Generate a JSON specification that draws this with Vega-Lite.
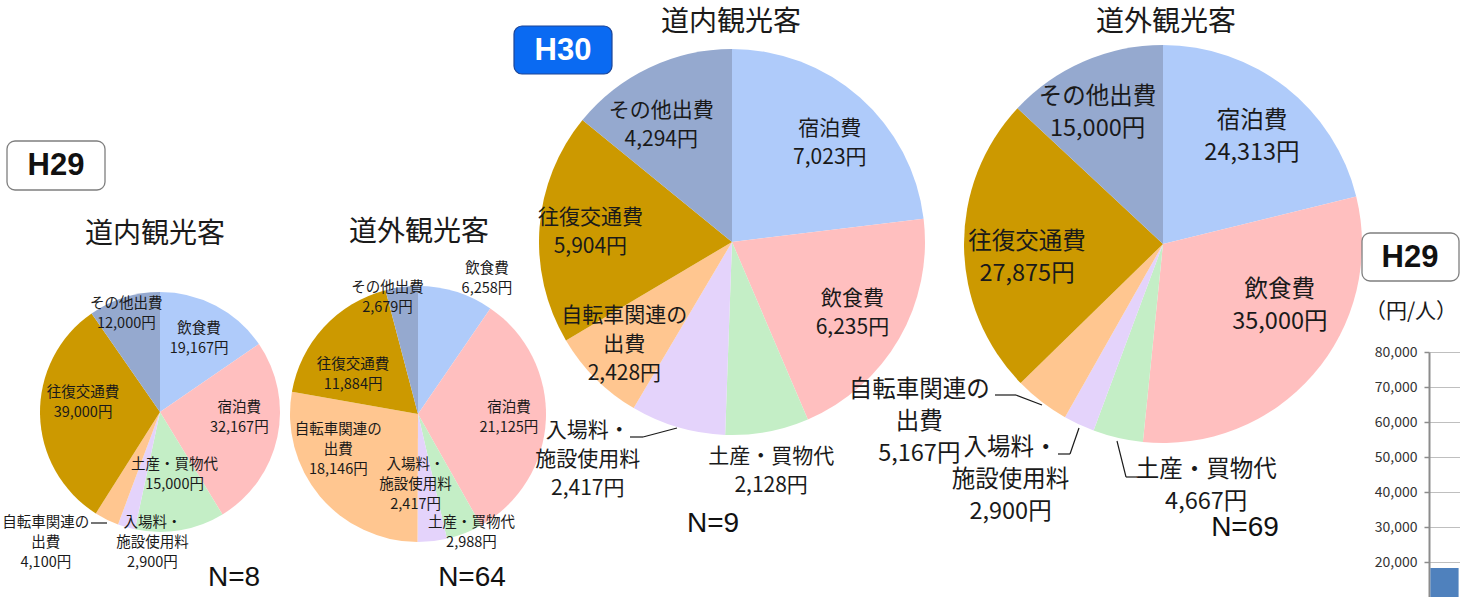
{
  "$schema": "https://vega.github.io/schema/vega-lite/v6.json",
  "padding": 0,
  "background": "white",
  "autosize": {"type": "pad"},
  "bounds": "flush",
  "spacing": 0,
  "config": {
    "view": {"stroke": null},
    "text": {"font": "Noto Sans CJK JP", "color": "#1a1a1a", "align": "center", "baseline": "middle", "lineBreak": "\n"}
  },
  "datasets": {
    "spend": [
      {"survey": "H29道内", "idx": 1, "category": "飲食費", "value": 19167},
      {"survey": "H29道内", "idx": 2, "category": "宿泊費", "value": 32167},
      {"survey": "H29道内", "idx": 3, "category": "土産・買物代", "value": 15000},
      {"survey": "H29道内", "idx": 4, "category": "入場料・施設使用料", "value": 2900},
      {"survey": "H29道内", "idx": 5, "category": "自転車関連の出費", "value": 4100},
      {"survey": "H29道内", "idx": 6, "category": "往復交通費", "value": 39000},
      {"survey": "H29道内", "idx": 7, "category": "その他出費", "value": 12000},
      {"survey": "H29道外", "idx": 1, "category": "飲食費", "value": 6258},
      {"survey": "H29道外", "idx": 2, "category": "宿泊費", "value": 21125},
      {"survey": "H29道外", "idx": 3, "category": "土産・買物代", "value": 2988},
      {"survey": "H29道外", "idx": 4, "category": "入場料・施設使用料", "value": 2417},
      {"survey": "H29道外", "idx": 5, "category": "自転車関連の出費", "value": 18146},
      {"survey": "H29道外", "idx": 6, "category": "往復交通費", "value": 11884},
      {"survey": "H29道外", "idx": 7, "category": "その他出費", "value": 2679},
      {"survey": "H30道内", "idx": 1, "category": "宿泊費", "value": 7023},
      {"survey": "H30道内", "idx": 2, "category": "飲食費", "value": 6235},
      {"survey": "H30道内", "idx": 3, "category": "土産・買物代", "value": 2128},
      {"survey": "H30道内", "idx": 4, "category": "入場料・施設使用料", "value": 2417},
      {"survey": "H30道内", "idx": 5, "category": "自転車関連の出費", "value": 2428},
      {"survey": "H30道内", "idx": 6, "category": "往復交通費", "value": 5904},
      {"survey": "H30道内", "idx": 7, "category": "その他出費", "value": 4294},
      {"survey": "H30道外", "idx": 1, "category": "宿泊費", "value": 24313},
      {"survey": "H30道外", "idx": 2, "category": "飲食費", "value": 35000},
      {"survey": "H30道外", "idx": 3, "category": "土産・買物代", "value": 4667},
      {"survey": "H30道外", "idx": 4, "category": "入場料・施設使用料", "value": 2900},
      {"survey": "H30道外", "idx": 5, "category": "自転車関連の出費", "value": 5167},
      {"survey": "H30道外", "idx": 6, "category": "往復交通費", "value": 27875},
      {"survey": "H30道外", "idx": 7, "category": "その他出費", "value": 15000}
    ],
    "panels": [
      {"survey": "H29道内", "year": "H29", "visitor": "道内観光客", "n": 8},
      {"survey": "H29道外", "year": "H29", "visitor": "道外観光客", "n": 64},
      {"survey": "H30道内", "year": "H30", "visitor": "道内観光客", "n": 9},
      {"survey": "H30道外", "year": "H30", "visitor": "道外観光客", "n": 69}
    ],
    "badges": [
      {"badge": "left", "year": "H29"},
      {"badge": "middle", "year": "H30"},
      {"badge": "right", "year": "H29"}
    ],
    "totals": [{"group": "H29", "value": 18300}]
  },
  "hconcat": [
    {
      "width": 1429,
      "height": 597,
      "resolve": {"scale": {"theta": "independent"}},
      "layer": [
        {
          "data": {"name": "spend"},
          "transform": [
            {"filter": "datum.survey === 'H29道内'"},
            {"calculate": "(datum.category === '自転車関連の出費' ? '自転車関連の\\n出費' : datum.category === '入場料・施設使用料' ? '入場料・\\n施設使用料' : datum.category) + '\\n' + format(datum.value, ',') + '円'", "as": "label"}
          ],
          "encoding": {
            "x": {"datum": 160, "type": "quantitative", "scale": {"domain": [0, 1429], "nice": false, "zero": false}, "axis": null},
            "y": {"datum": 412, "type": "quantitative", "scale": {"domain": [597, 0], "nice": false, "zero": false}, "axis": null},
            "theta": {"field": "value", "type": "quantitative", "stack": true},
            "order": {"field": "idx", "type": "quantitative"}
          },
          "layer": [
            {"mark": {"type": "arc", "outerRadius": 120},
             "encoding": {"color": {"field": "idx", "type": "ordinal", "legend": null,
               "scale": {"domain": [1, 2, 3, 4, 5, 6, 7], "range": ["#AFCBFA", "#FFBFBF", "#C4EEC6", "#E4D3FB", "#FFC690", "#CC9900", "#95A9CF"]}}}},
            {"mark": {"type": "text", "clip": true, "radius": 84, "dx": 0, "dy": -9, "fontSize": 14.5, "lineHeight": 20},
             "encoding": {"text": {"condition": {"test": "datum.category === '飲食費'", "field": "label", "type": "nominal"}, "value": ""}}},
            {"mark": {"type": "text", "clip": true, "radius": 78, "dx": 3, "dy": -20, "fontSize": 14.5, "lineHeight": 20},
             "encoding": {"text": {"condition": {"test": "datum.category === '宿泊費'", "field": "label", "type": "nominal"}, "value": ""}}},
            {"mark": {"type": "text", "clip": true, "radius": 63, "dx": 4, "dy": -9, "fontSize": 14.5, "lineHeight": 20},
             "encoding": {"text": {"condition": {"test": "datum.category === '土産・買物代'", "field": "label", "type": "nominal"}, "value": ""}}},
            {"mark": {"type": "text", "clip": true, "radius": 127, "dx": 28, "dy": -11, "fontSize": 14.5, "lineHeight": 20},
             "encoding": {"text": {"condition": {"test": "datum.category === '入場料・施設使用料'", "field": "label", "type": "nominal"}, "value": ""}}},
            {"mark": {"type": "text", "clip": true, "radius": 169, "dx": -39, "dy": -40, "fontSize": 14.5, "lineHeight": 20},
             "encoding": {"text": {"condition": {"test": "datum.category === '自転車関連の出費'", "field": "label", "type": "nominal"}, "value": ""}}},
            {"mark": {"type": "text", "clip": true, "radius": 77, "dx": 0, "dy": -21, "fontSize": 14.5, "lineHeight": 20},
             "encoding": {"text": {"condition": {"test": "datum.category === '往復交通費'", "field": "label", "type": "nominal"}, "value": ""}}},
            {"mark": {"type": "text", "clip": true, "radius": 106, "dx": -2, "dy": -7, "fontSize": 14.5, "lineHeight": 20},
             "encoding": {"text": {"condition": {"test": "datum.category === 'その他出費'", "field": "label", "type": "nominal"}, "value": ""}}}
          ]
        },
        {
          "data": {"name": "spend"},
          "transform": [
            {"filter": "datum.survey === 'H29道外'"},
            {"calculate": "(datum.category === '自転車関連の出費' ? '自転車関連の\\n出費' : datum.category === '入場料・施設使用料' ? '入場料・\\n施設使用料' : datum.category) + '\\n' + format(datum.value, ',') + '円'", "as": "label"}
          ],
          "encoding": {
            "x": {"datum": 418, "type": "quantitative", "scale": {"domain": [0, 1429], "nice": false, "zero": false}, "axis": null},
            "y": {"datum": 414, "type": "quantitative", "scale": {"domain": [597, 0], "nice": false, "zero": false}, "axis": null},
            "theta": {"field": "value", "type": "quantitative", "stack": true},
            "order": {"field": "idx", "type": "quantitative"}
          },
          "layer": [
            {"mark": {"type": "arc", "outerRadius": 128},
             "encoding": {"color": {"field": "idx", "type": "ordinal", "legend": null,
               "scale": {"domain": [1, 2, 3, 4, 5, 6, 7], "range": ["#AFCBFA", "#FFBFBF", "#C4EEC6", "#E4D3FB", "#FFC690", "#CC9900", "#95A9CF"]}}}},
            {"mark": {"type": "text", "clip": true, "radius": 152, "dx": 24, "dy": 0, "fontSize": 14.5, "lineHeight": 20},
             "encoding": {"text": {"condition": {"test": "datum.category === '飲食費'", "field": "label", "type": "nominal"}, "value": ""}}},
            {"mark": {"type": "text", "clip": true, "radius": 91, "dx": 0, "dy": -10, "fontSize": 14.5, "lineHeight": 20},
             "encoding": {"text": {"condition": {"test": "datum.category === '宿泊費'", "field": "label", "type": "nominal"}, "value": ""}}},
            {"mark": {"type": "text", "clip": true, "radius": 128, "dx": 7, "dy": -10, "fontSize": 14.5, "lineHeight": 20},
             "encoding": {"text": {"condition": {"test": "datum.category === '土産・買物代'", "field": "label", "type": "nominal"}, "value": ""}}},
            {"mark": {"type": "text", "clip": true, "radius": 68, "dx": -10, "dy": -17, "fontSize": 14.5, "lineHeight": 20},
             "encoding": {"text": {"condition": {"test": "datum.category === '入場料・施設使用料'", "field": "label", "type": "nominal"}, "value": ""}}},
            {"mark": {"type": "text", "clip": true, "radius": 83, "dx": -16, "dy": -37, "fontSize": 14.5, "lineHeight": 20},
             "encoding": {"text": {"condition": {"test": "datum.category === '自転車関連の出費'", "field": "label", "type": "nominal"}, "value": ""}}},
            {"mark": {"type": "text", "clip": true, "radius": 76, "dx": -9, "dy": 2, "fontSize": 14.5, "lineHeight": 20},
             "encoding": {"text": {"condition": {"test": "datum.category === '往復交通費'", "field": "label", "type": "nominal"}, "value": ""}}},
            {"mark": {"type": "text", "clip": true, "radius": 121, "dx": -15, "dy": -6, "fontSize": 14.5, "lineHeight": 20},
             "encoding": {"text": {"condition": {"test": "datum.category === 'その他出費'", "field": "label", "type": "nominal"}, "value": ""}}}
          ]
        },
        {
          "data": {"name": "spend"},
          "transform": [
            {"filter": "datum.survey === 'H30道内'"},
            {"calculate": "(datum.category === '自転車関連の出費' ? '自転車関連の\\n出費' : datum.category === '入場料・施設使用料' ? '入場料・\\n施設使用料' : datum.category) + '\\n' + format(datum.value, ',') + '円'", "as": "label"}
          ],
          "encoding": {
            "x": {"datum": 732, "type": "quantitative", "scale": {"domain": [0, 1429], "nice": false, "zero": false}, "axis": null},
            "y": {"datum": 242, "type": "quantitative", "scale": {"domain": [597, 0], "nice": false, "zero": false}, "axis": null},
            "theta": {"field": "value", "type": "quantitative", "stack": true},
            "order": {"field": "idx", "type": "quantitative"}
          },
          "layer": [
            {"mark": {"type": "arc", "outerRadius": 193},
             "encoding": {"color": {"field": "idx", "type": "ordinal", "legend": null,
               "scale": {"domain": [1, 2, 3, 4, 5, 6, 7], "range": ["#AFCBFA", "#FFBFBF", "#C4EEC6", "#E4D3FB", "#FFC690", "#CC9900", "#95A9CF"]}}}},
            {"mark": {"type": "text", "clip": true, "radius": 140, "dx": 5, "dy": -8, "fontSize": 21, "lineHeight": 29},
             "encoding": {"text": {"condition": {"test": "datum.category === '宿泊費'", "field": "label", "type": "nominal"}, "value": ""}}},
            {"mark": {"type": "text", "clip": true, "radius": 139, "dx": 0, "dy": -12, "fontSize": 21, "lineHeight": 29},
             "encoding": {"text": {"condition": {"test": "datum.category === '飲食費'", "field": "label", "type": "nominal"}, "value": ""}}},
            {"mark": {"type": "text", "clip": true, "radius": 230, "dx": -3, "dy": -11, "fontSize": 21, "lineHeight": 29},
             "encoding": {"text": {"condition": {"test": "datum.category === '土産・買物代'", "field": "label", "type": "nominal"}, "value": ""}}},
            {"mark": {"type": "text", "clip": true, "radius": 250, "dx": -74, "dy": -51, "fontSize": 21, "lineHeight": 29},
             "encoding": {"text": {"condition": {"test": "datum.category === '入場料・施設使用料'", "field": "label", "type": "nominal"}, "value": ""}}},
            {"mark": {"type": "text", "clip": true, "radius": 148, "dx": -3, "dy": -31, "fontSize": 21, "lineHeight": 29},
             "encoding": {"text": {"condition": {"test": "datum.category === '自転車関連の出費'", "field": "label", "type": "nominal"}, "value": ""}}},
            {"mark": {"type": "text", "clip": true, "radius": 142, "dx": 0, "dy": -13, "fontSize": 21, "lineHeight": 29},
             "encoding": {"text": {"condition": {"test": "datum.category === '往復交通費'", "field": "label", "type": "nominal"}, "value": ""}}},
            {"mark": {"type": "text", "clip": true, "radius": 137, "dx": -12, "dy": -7, "fontSize": 21, "lineHeight": 29},
             "encoding": {"text": {"condition": {"test": "datum.category === 'その他出費'", "field": "label", "type": "nominal"}, "value": ""}}}
          ]
        },
        {
          "data": {"name": "spend"},
          "transform": [
            {"filter": "datum.survey === 'H30道外'"},
            {"calculate": "(datum.category === '自転車関連の出費' ? '自転車関連の\\n出費' : datum.category === '入場料・施設使用料' ? '入場料・\\n施設使用料' : datum.category) + '\\n' + format(datum.value, ',') + '円'", "as": "label"}
          ],
          "encoding": {
            "x": {"datum": 1163, "type": "quantitative", "scale": {"domain": [0, 1429], "nice": false, "zero": false}, "axis": null},
            "y": {"datum": 244, "type": "quantitative", "scale": {"domain": [597, 0], "nice": false, "zero": false}, "axis": null},
            "theta": {"field": "value", "type": "quantitative", "stack": true},
            "order": {"field": "idx", "type": "quantitative"}
          },
          "layer": [
            {"mark": {"type": "arc", "outerRadius": 199},
             "encoding": {"color": {"field": "idx", "type": "ordinal", "legend": null,
               "scale": {"domain": [1, 2, 3, 4, 5, 6, 7], "range": ["#AFCBFA", "#FFBFBF", "#C4EEC6", "#E4D3FB", "#FFC690", "#CC9900", "#95A9CF"]}}}},
            {"mark": {"type": "text", "clip": true, "radius": 141, "dx": 2, "dy": -12, "fontSize": 23.5, "lineHeight": 32},
             "encoding": {"text": {"condition": {"test": "datum.category === '宿泊費'", "field": "label", "type": "nominal"}, "value": ""}}},
            {"mark": {"type": "text", "clip": true, "radius": 127, "dx": 21, "dy": -37, "fontSize": 23.5, "lineHeight": 32},
             "encoding": {"text": {"condition": {"test": "datum.category === '飲食費'", "field": "label", "type": "nominal"}, "value": ""}}},
            {"mark": {"type": "text", "clip": true, "radius": 224, "dx": 94, "dy": 8, "fontSize": 23.5, "lineHeight": 32},
             "encoding": {"text": {"condition": {"test": "datum.category === '土産・買物代'", "field": "label", "type": "nominal"}, "value": ""}}},
            {"mark": {"type": "text", "clip": true, "radius": 276, "dx": -36, "dy": -46, "fontSize": 23.5, "lineHeight": 32},
             "encoding": {"text": {"condition": {"test": "datum.category === '入場料・施設使用料'", "field": "label", "type": "nominal"}, "value": ""}}},
            {"mark": {"type": "text", "clip": true, "radius": 288, "dx": -68, "dy": -82, "fontSize": 23.5, "lineHeight": 32},
             "encoding": {"text": {"condition": {"test": "datum.category === '自転車関連の出費'", "field": "label", "type": "nominal"}, "value": ""}}},
            {"mark": {"type": "text", "clip": true, "radius": 136, "dx": 0, "dy": -4, "fontSize": 23.5, "lineHeight": 32},
             "encoding": {"text": {"condition": {"test": "datum.category === '往復交通費'", "field": "label", "type": "nominal"}, "value": ""}}},
            {"mark": {"type": "text", "clip": true, "radius": 149, "dx": -6, "dy": -10, "fontSize": 23.5, "lineHeight": 32},
             "encoding": {"text": {"condition": {"test": "datum.category === 'その他出費'", "field": "label", "type": "nominal"}, "value": ""}}}
          ]
        },
        {
          "data": {"name": "badges"},
          "transform": [{"filter": "datum.badge === 'left'"}],
          "layer": [
            {"mark": {"type": "rect", "fill": "white", "stroke": "#7f7f7f", "strokeWidth": 1.3, "cornerRadius": 8},
             "encoding": {
               "x": {"datum": 7, "type": "quantitative", "scale": {"domain": [0, 1429], "nice": false, "zero": false}, "axis": null},
               "x2": {"datum": 105},
               "y": {"datum": 141, "type": "quantitative", "scale": {"domain": [597, 0], "nice": false, "zero": false}, "axis": null},
               "y2": {"datum": 190}}},
            {"mark": {"type": "text", "font": "Liberation Sans", "fontWeight": "bold", "fontSize": 31, "color": "#111111"},
             "encoding": {
               "x": {"datum": 56, "type": "quantitative", "scale": {"domain": [0, 1429], "nice": false, "zero": false}, "axis": null},
               "y": {"datum": 166, "type": "quantitative", "scale": {"domain": [597, 0], "nice": false, "zero": false}, "axis": null},
               "text": {"field": "year"}}}
          ]
        },
        {
          "data": {"name": "badges"},
          "transform": [{"filter": "datum.badge === 'middle'"}],
          "layer": [
            {"mark": {"type": "rect", "fill": "#0A6AF2", "stroke": "#1d4596", "strokeWidth": 1.2, "cornerRadius": 8},
             "encoding": {
               "x": {"datum": 514, "type": "quantitative", "scale": {"domain": [0, 1429], "nice": false, "zero": false}, "axis": null},
               "x2": {"datum": 612},
               "y": {"datum": 26, "type": "quantitative", "scale": {"domain": [597, 0], "nice": false, "zero": false}, "axis": null},
               "y2": {"datum": 74}}},
            {"mark": {"type": "text", "font": "Liberation Sans", "fontWeight": "bold", "fontSize": 31, "color": "white"},
             "encoding": {
               "x": {"datum": 563, "type": "quantitative", "scale": {"domain": [0, 1429], "nice": false, "zero": false}, "axis": null},
               "y": {"datum": 50.5, "type": "quantitative", "scale": {"domain": [597, 0], "nice": false, "zero": false}, "axis": null},
               "text": {"field": "year"}}}
          ]
        },
        {
          "data": {"name": "badges"},
          "transform": [{"filter": "datum.badge === 'right'"}],
          "layer": [
            {"mark": {"type": "rect", "fill": "white", "stroke": "#7f7f7f", "strokeWidth": 1.3, "cornerRadius": 8},
             "encoding": {
               "x": {"datum": 1362, "type": "quantitative", "scale": {"domain": [0, 1429], "nice": false, "zero": false}, "axis": null},
               "x2": {"datum": 1459},
               "y": {"datum": 233, "type": "quantitative", "scale": {"domain": [597, 0], "nice": false, "zero": false}, "axis": null},
               "y2": {"datum": 281}}},
            {"mark": {"type": "text", "font": "Liberation Sans", "fontWeight": "bold", "fontSize": 31, "color": "#111111"},
             "encoding": {
               "x": {"datum": 1410, "type": "quantitative", "scale": {"domain": [0, 1429], "nice": false, "zero": false}, "axis": null},
               "y": {"datum": 257.5, "type": "quantitative", "scale": {"domain": [597, 0], "nice": false, "zero": false}, "axis": null},
               "text": {"field": "year"}}}
          ]
        },
        {
          "data": {"name": "panels"},
          "transform": [{"filter": "datum.survey === 'H29道内'"}, {"calculate": "'N=' + datum.n", "as": "ntext"}],
          "layer": [
            {"mark": {"type": "text", "fontSize": 28},
             "encoding": {
               "x": {"datum": 155, "type": "quantitative", "scale": {"domain": [0, 1429], "nice": false, "zero": false}, "axis": null},
               "y": {"datum": 235, "type": "quantitative", "scale": {"domain": [597, 0], "nice": false, "zero": false}, "axis": null},
               "text": {"field": "visitor"}}},
            {"mark": {"type": "text", "font": "Liberation Sans", "fontSize": 28, "color": "#111111"},
             "encoding": {
               "x": {"datum": 234, "type": "quantitative", "scale": {"domain": [0, 1429], "nice": false, "zero": false}, "axis": null},
               "y": {"datum": 578, "type": "quantitative", "scale": {"domain": [597, 0], "nice": false, "zero": false}, "axis": null},
               "text": {"field": "ntext"}}}
          ]
        },
        {
          "data": {"name": "panels"},
          "transform": [{"filter": "datum.survey === 'H29道外'"}, {"calculate": "'N=' + datum.n", "as": "ntext"}],
          "layer": [
            {"mark": {"type": "text", "fontSize": 28},
             "encoding": {
               "x": {"datum": 419, "type": "quantitative", "scale": {"domain": [0, 1429], "nice": false, "zero": false}, "axis": null},
               "y": {"datum": 233, "type": "quantitative", "scale": {"domain": [597, 0], "nice": false, "zero": false}, "axis": null},
               "text": {"field": "visitor"}}},
            {"mark": {"type": "text", "font": "Liberation Sans", "fontSize": 28, "color": "#111111"},
             "encoding": {
               "x": {"datum": 472, "type": "quantitative", "scale": {"domain": [0, 1429], "nice": false, "zero": false}, "axis": null},
               "y": {"datum": 578, "type": "quantitative", "scale": {"domain": [597, 0], "nice": false, "zero": false}, "axis": null},
               "text": {"field": "ntext"}}}
          ]
        },
        {
          "data": {"name": "panels"},
          "transform": [{"filter": "datum.survey === 'H30道内'"}, {"calculate": "'N=' + datum.n", "as": "ntext"}],
          "layer": [
            {"mark": {"type": "text", "fontSize": 28},
             "encoding": {
               "x": {"datum": 731, "type": "quantitative", "scale": {"domain": [0, 1429], "nice": false, "zero": false}, "axis": null},
               "y": {"datum": 23, "type": "quantitative", "scale": {"domain": [597, 0], "nice": false, "zero": false}, "axis": null},
               "text": {"field": "visitor"}}},
            {"mark": {"type": "text", "font": "Liberation Sans", "fontSize": 28, "color": "#111111"},
             "encoding": {
               "x": {"datum": 713, "type": "quantitative", "scale": {"domain": [0, 1429], "nice": false, "zero": false}, "axis": null},
               "y": {"datum": 524, "type": "quantitative", "scale": {"domain": [597, 0], "nice": false, "zero": false}, "axis": null},
               "text": {"field": "ntext"}}}
          ]
        },
        {
          "data": {"name": "panels"},
          "transform": [{"filter": "datum.survey === 'H30道外'"}, {"calculate": "'N=' + datum.n", "as": "ntext"}],
          "layer": [
            {"mark": {"type": "text", "fontSize": 28},
             "encoding": {
               "x": {"datum": 1166, "type": "quantitative", "scale": {"domain": [0, 1429], "nice": false, "zero": false}, "axis": null},
               "y": {"datum": 23, "type": "quantitative", "scale": {"domain": [597, 0], "nice": false, "zero": false}, "axis": null},
               "text": {"field": "visitor"}}},
            {"mark": {"type": "text", "font": "Liberation Sans", "fontSize": 28, "color": "#111111"},
             "encoding": {
               "x": {"datum": 1245, "type": "quantitative", "scale": {"domain": [0, 1429], "nice": false, "zero": false}, "axis": null},
               "y": {"datum": 528, "type": "quantitative", "scale": {"domain": [597, 0], "nice": false, "zero": false}, "axis": null},
               "text": {"field": "ntext"}}}
          ]
        },
        {
          "data": {"values": [{"unit": "（円/人）"}]},
          "mark": {"type": "text", "fontSize": 21},
          "encoding": {
            "x": {"datum": 1411, "type": "quantitative", "scale": {"domain": [0, 1429], "nice": false, "zero": false}, "axis": null},
            "y": {"datum": 312, "type": "quantitative", "scale": {"domain": [597, 0], "nice": false, "zero": false}, "axis": null},
            "text": {"field": "unit"}
          }
        },
        {
          "data": {"values": [{}]},
          "mark": {"type": "rule", "color": "#1a1a1a", "strokeWidth": 1.2},
          "encoding": {
            "x": {"datum": 91, "type": "quantitative", "scale": {"domain": [0, 1429], "nice": false, "zero": false}, "axis": null},
            "x2": {"datum": 107},
            "y": {"datum": 523, "type": "quantitative", "scale": {"domain": [597, 0], "nice": false, "zero": false}, "axis": null},
            "y2": {"datum": 523}
          }
        },
        {
          "data": {"values": [{}]},
          "mark": {"type": "rule", "color": "#1a1a1a", "strokeWidth": 1.2},
          "encoding": {
            "x": {"datum": 630, "type": "quantitative", "scale": {"domain": [0, 1429], "nice": false, "zero": false}, "axis": null},
            "x2": {"datum": 643},
            "y": {"datum": 437, "type": "quantitative", "scale": {"domain": [597, 0], "nice": false, "zero": false}, "axis": null},
            "y2": {"datum": 437}
          }
        },
        {
          "data": {"values": [{}]},
          "mark": {"type": "rule", "color": "#1a1a1a", "strokeWidth": 1.2},
          "encoding": {
            "x": {"datum": 643, "type": "quantitative", "scale": {"domain": [0, 1429], "nice": false, "zero": false}, "axis": null},
            "x2": {"datum": 677},
            "y": {"datum": 437, "type": "quantitative", "scale": {"domain": [597, 0], "nice": false, "zero": false}, "axis": null},
            "y2": {"datum": 428}
          }
        },
        {
          "data": {"values": [{}]},
          "mark": {"type": "rule", "color": "#1a1a1a", "strokeWidth": 1.2},
          "encoding": {
            "x": {"datum": 995, "type": "quantitative", "scale": {"domain": [0, 1429], "nice": false, "zero": false}, "axis": null},
            "x2": {"datum": 1016},
            "y": {"datum": 395, "type": "quantitative", "scale": {"domain": [597, 0], "nice": false, "zero": false}, "axis": null},
            "y2": {"datum": 395}
          }
        },
        {
          "data": {"values": [{}]},
          "mark": {"type": "rule", "color": "#1a1a1a", "strokeWidth": 1.2},
          "encoding": {
            "x": {"datum": 1016, "type": "quantitative", "scale": {"domain": [0, 1429], "nice": false, "zero": false}, "axis": null},
            "x2": {"datum": 1042},
            "y": {"datum": 395, "type": "quantitative", "scale": {"domain": [597, 0], "nice": false, "zero": false}, "axis": null},
            "y2": {"datum": 405}
          }
        },
        {
          "data": {"values": [{}]},
          "mark": {"type": "rule", "color": "#1a1a1a", "strokeWidth": 1.2},
          "encoding": {
            "x": {"datum": 1058, "type": "quantitative", "scale": {"domain": [0, 1429], "nice": false, "zero": false}, "axis": null},
            "x2": {"datum": 1070},
            "y": {"datum": 454, "type": "quantitative", "scale": {"domain": [597, 0], "nice": false, "zero": false}, "axis": null},
            "y2": {"datum": 454}
          }
        },
        {
          "data": {"values": [{}]},
          "mark": {"type": "rule", "color": "#1a1a1a", "strokeWidth": 1.2},
          "encoding": {
            "x": {"datum": 1070, "type": "quantitative", "scale": {"domain": [0, 1429], "nice": false, "zero": false}, "axis": null},
            "x2": {"datum": 1079},
            "y": {"datum": 454, "type": "quantitative", "scale": {"domain": [597, 0], "nice": false, "zero": false}, "axis": null},
            "y2": {"datum": 428}
          }
        },
        {
          "data": {"values": [{}]},
          "mark": {"type": "rule", "color": "#1a1a1a", "strokeWidth": 1.2},
          "encoding": {
            "x": {"datum": 1117, "type": "quantitative", "scale": {"domain": [0, 1429], "nice": false, "zero": false}, "axis": null},
            "x2": {"datum": 1126},
            "y": {"datum": 441, "type": "quantitative", "scale": {"domain": [597, 0], "nice": false, "zero": false}, "axis": null},
            "y2": {"datum": 477}
          }
        },
        {
          "data": {"values": [{}]},
          "mark": {"type": "rule", "color": "#1a1a1a", "strokeWidth": 1.2},
          "encoding": {
            "x": {"datum": 1126, "type": "quantitative", "scale": {"domain": [0, 1429], "nice": false, "zero": false}, "axis": null},
            "x2": {"datum": 1137},
            "y": {"datum": 477, "type": "quantitative", "scale": {"domain": [597, 0], "nice": false, "zero": false}, "axis": null},
            "y2": {"datum": 477}
          }
        }
      ]
    },
    {
      "width": 31,
      "height": 597,
      "data": {"name": "totals"},
      "mark": {"type": "bar", "color": "#4F81BD", "clip": true},
      "encoding": {
        "x": {"field": "group", "type": "nominal", "axis": null, "scale": {"paddingInner": 0, "paddingOuter": 0.05}},
        "y": {"field": "value", "type": "quantitative",
          "scale": {"domain": [10000, 80000], "range": [597, 352], "nice": false, "zero": false},
          "axis": {"values": [20000, 30000, 40000, 50000, 60000, 70000, 80000], "format": ",.0f", "title": null,
            "grid": true, "gridColor": "#bfbfbf", "gridWidth": 1,
            "domainColor": "#8c8c8c", "domainWidth": 2, "tickColor": "#8c8c8c", "tickSize": 5, "tickWidth": 1.5,
            "labelFont": "Noto Sans CJK JP", "labelFontSize": 14, "labelColor": "#333333", "labelPadding": 7}}
      }
    }
  ]
}
